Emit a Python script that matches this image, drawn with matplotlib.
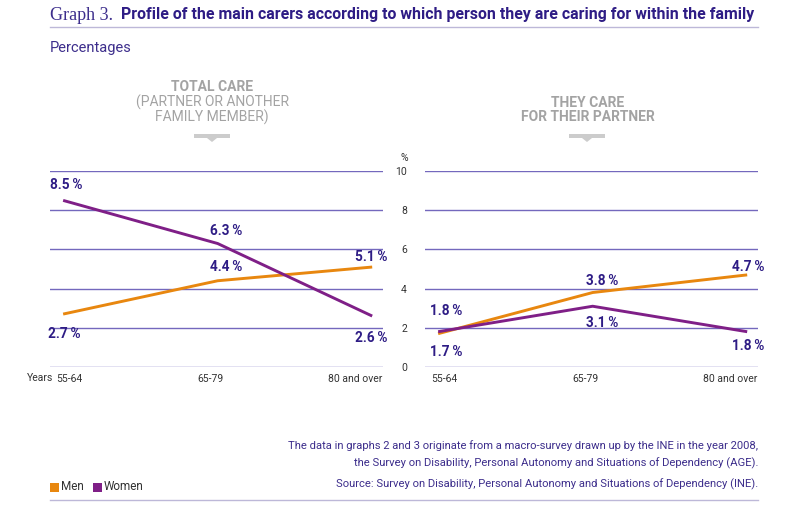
import matplotlib
matplotlib.use('Agg')
from matplotlib import pyplot as plt
from matplotlib import transforms
from matplotlib.patches import Rectangle, Polygon
from matplotlib.lines import Line2D

# DATA
age_groups = ["55-64", "65-79", "80 and over"]
total_men = [2.7, 4.4, 5.1]
total_women = [8.5, 6.3, 2.6]
partner_men = [1.7, 3.8, 4.7]
partner_women = [1.8, 3.1, 1.8]
y_ticks = [0, 2, 4, 6, 8, 10]

ORANGE = '#e8870f'
PURPLE = '#7f1f87'
NAVY = '#2e1c85'
INK = '#3d2e8c'
GRID = '#7468bd'
GREY = '#a3a3a3'
RULE = '#bdb8d8'

plt.rcParams['font.family'] = ['Roboto', 'DejaVu Sans']

W, H = 800, 514


def fx(x):
    return x / W


def fy(y):
    return 1 - y / H


fig = plt.figure(figsize=(8, 5.14), dpi=100)

ax_l = fig.add_axes([fx(50), fy(367), fx(333), (367 - 171) / H])
ax_r = fig.add_axes([fx(425), fy(367), fx(333), (367 - 171) / H])

# label offsets in points (dx, dy) -- style only
off_total_men = [(1, -14), (6, 10), (-1, 7)]
off_total_women = [(2, 11), (6, 9), (-1, -16)]
off_partner_men = [(6, -13), (7, 8), (1, 6)]
off_partner_women = [(6, 15), (7, -12), (1, -10)]
# horizontal shift of the category labels, in pixels
tick_shift = [6, -7, -17]


def draw_panel(ax, men, women, off_m, off_w):
    xs = list(range(len(age_groups)))
    for t in y_ticks:
        ax.axhline(t, color=GRID, lw=1.0, zorder=1)
    ax.plot(xs, men, color=ORANGE, lw=2.1, solid_capstyle='butt', zorder=3)
    ax.plot(xs, women, color=PURPLE, lw=2.1, solid_capstyle='butt', zorder=3)
    for x, v, o in zip(xs, men, off_m):
        ax.annotate(f"{v:.1f}\u2009%", (x, v), xytext=o, textcoords='offset points',
                    ha='center', va='center', fontsize=9.8, fontweight='bold', color=NAVY)
    for x, v, o in zip(xs, women, off_w):
        ax.annotate(f"{v:.1f}\u2009%", (x, v), xytext=o, textcoords='offset points',
                    ha='center', va='center', fontsize=9.8, fontweight='bold', color=NAVY)
    ax.set_xlim(-0.085, 2.07)
    ax.set_ylim(0, 10)
    ax.set_xticks(xs)
    ax.set_xticklabels(age_groups, fontsize=7.5, color='#333333')
    ax.tick_params(axis='x', length=0, pad=5)
    for lab, dx in zip(ax.get_xticklabels(), tick_shift):
        lab.set_transform(lab.get_transform() + transforms.ScaledTranslation(dx / 100, 0, fig.dpi_scale_trans))
    for s in ax.spines.values():
        s.set_visible(False)
    ax.patch.set_visible(False)


draw_panel(ax_l, total_men, total_women, off_total_men, off_total_women)
draw_panel(ax_r, partner_men, partner_women, off_partner_men, off_partner_women)

ax_l.set_yticks([])
ax_r.set_yticks(y_ticks)
ax_r.set_yticklabels([str(t) for t in y_ticks], fontsize=7.5, color='#333333')
ax_r.tick_params(axis='y', length=0, pad=13)
fig.text(fx(404), fy(158), "%", fontsize=7.5, color='#333333', ha='center', va='center')
fig.text(fx(53), fy(378), "Years", fontsize=7.5, color='#333333', ha='right', va='center')

# title
fig.text(fx(50), fy(15), "Graph 3.", family='Liberation Serif', fontsize=13, color=INK,
         ha='left', va='center')
fig.text(fx(121), fy(15), "Profile of the main carers according to which person they are caring for within the family",
         fontsize=11.4, fontweight='bold', color=NAVY, ha='left', va='center')
fig.add_artist(Line2D([fx(50), fx(758)], [fy(27), fy(27)], color=RULE, lw=1))
fig.text(fx(50), fy(48), "Percentages", fontsize=10.5, color=INK, ha='left', va='center')

# panel headers
fig.text(fx(212), fy(87), "TOTAL CARE", fontsize=10, fontweight='bold', color=GREY, ha='center', va='center')
fig.text(fx(212), fy(110), "(PARTNER OR ANOTHER\nFAMILY MEMBER)", fontsize=10, color=GREY,
         ha='center', va='center', linespacing=1.0)
fig.text(fx(588), fy(110), "THEY CARE\nFOR THEIR PARTNER", fontsize=10, fontweight='bold', color=GREY,
         ha='center', va='center', linespacing=1.0)

for cx in (212, 587):
    fig.add_artist(Rectangle((fx(cx - 18), fy(138)), fx(36), 4 / H, color='#cccccc', lw=0))
    fig.add_artist(Polygon([(fx(cx - 5), fy(138)), (fx(cx + 5), fy(138)), (fx(cx), fy(142))],
                           closed=True, color='#cccccc', lw=0))

# notes
fig.text(fx(758), fy(446), "The data in graphs 2 and 3 originate from a macro-survey drawn up by the INE in the year 2008,",
         fontsize=8.1, color=INK, ha='right', va='center')
fig.text(fx(758), fy(463), "the Survey on Disability, Personal Autonomy and Situations of Dependency (AGE).",
         fontsize=8.1, color=INK, ha='right', va='center')
fig.text(fx(758), fy(484), "Source: Survey on Disability, Personal Autonomy and Situations of Dependency (INE).",
         fontsize=8.1, color=INK, ha='right', va='center')

# legend
fig.add_artist(Rectangle((fx(50), fy(492)), fx(9), 9 / H, color=ORANGE, lw=0))
fig.text(fx(61), fy(487), "Men", fontsize=8.5, color='#333333', ha='left', va='center')
fig.add_artist(Rectangle((fx(93), fy(492)), fx(9), 9 / H, color=PURPLE, lw=0))
fig.text(fx(104), fy(487), "Women", fontsize=8.5, color='#333333', ha='left', va='center')
fig.add_artist(Line2D([fx(50), fx(758)], [fy(500), fy(500)], color=RULE, lw=1))

fig.savefig("out.png", dpi=100)
